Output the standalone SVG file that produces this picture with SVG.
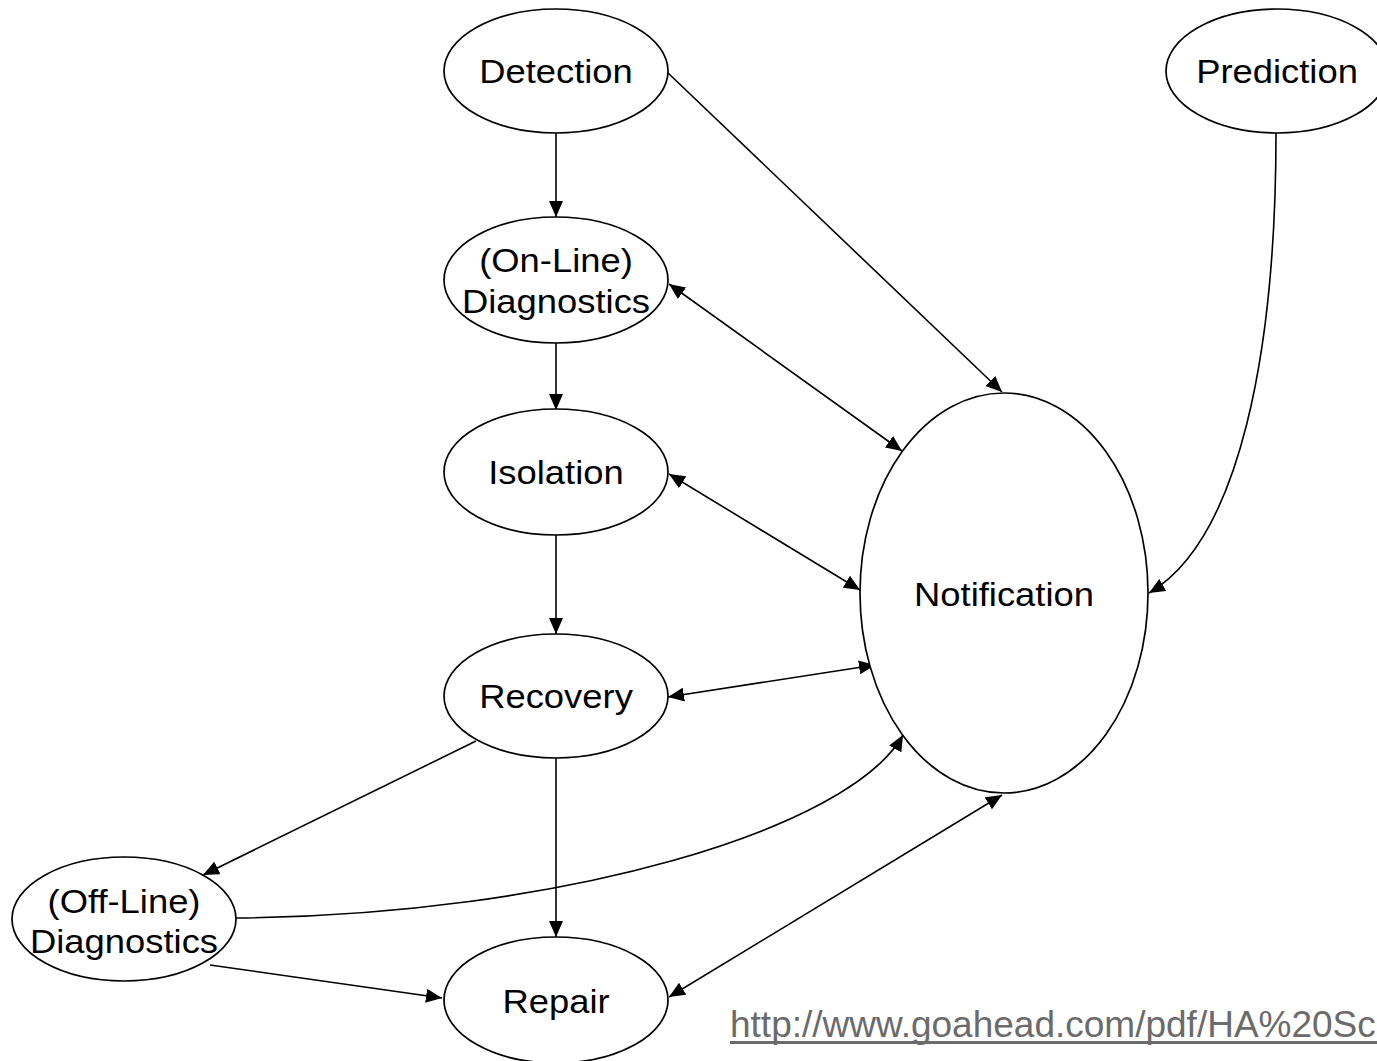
<svg xmlns="http://www.w3.org/2000/svg" width="1377" height="1061" viewBox="0 0 1377 1061">
  <style>
    .node { fill: #ffffff; stroke: #000000; stroke-width: 1.7; }
    .label { font-family: "Liberation Sans", Arial, sans-serif; font-size: 34px; fill: #000000; text-anchor: middle; }
    .edge { fill: none; stroke: #000000; stroke-width: 1.6; }
    .url { font-family: "Liberation Sans", Arial, sans-serif; font-size: 37px; fill: #6b6b6b; }
  </style>
  <defs>
    <marker id="arrow" markerUnits="userSpaceOnUse" markerWidth="17" markerHeight="14" refX="16" refY="7" orient="auto-start-reverse">
      <path d="M0,0 L16,7 L0,14 z" fill="#000000"/>
    </marker>
  </defs>

  <rect width="1377" height="1061" fill="#ffffff"/>

  <!-- connectors -->
  <g id="connectors">
    <path class="edge" d="M556,133 L556,217" marker-end="url(#arrow)"/>
    <path class="edge" d="M667,72 L1002,392" marker-end="url(#arrow)"/>
    <path class="edge" d="M556,343 L556,410" marker-end="url(#arrow)"/>
    <path class="edge" d="M669,284 L902,451" marker-start="url(#arrow)" marker-end="url(#arrow)"/>
    <path class="edge" d="M669,474 L860,590" marker-start="url(#arrow)" marker-end="url(#arrow)"/>
    <path class="edge" d="M556,535 L556,634" marker-end="url(#arrow)"/>
    <path class="edge" d="M668,697 L875,665" marker-start="url(#arrow)" marker-end="url(#arrow)"/>
    <path class="edge" d="M476,741 L203,875" marker-end="url(#arrow)"/>
    <path class="edge" d="M556,758 L556,937" marker-end="url(#arrow)"/>
    <path class="edge" d="M236,918 C560,915 850,830 903,735" marker-end="url(#arrow)"/>
    <path class="edge" d="M210,965 L442,998" marker-end="url(#arrow)"/>
    <path class="edge" d="M669,997 L1002,795" marker-start="url(#arrow)" marker-end="url(#arrow)"/>
    <path class="edge" d="M1276,133 C1276,350 1240,540 1149,593" marker-end="url(#arrow)"/>
  </g>

  <!-- nodes -->
  <g id="detection">
    <ellipse class="node" cx="556" cy="71" rx="112" ry="62"/>
    <text class="label" transform="translate(556 83) scale(1.07 1)">Detection</text>
  </g>
  <g id="prediction">
    <ellipse class="node" cx="1277" cy="71" rx="111" ry="62"/>
    <text class="label" transform="translate(1277 83) scale(1.07 1)">Prediction</text>
  </g>
  <g id="online-diagnostics">
    <ellipse class="node" cx="556" cy="280" rx="112" ry="63"/>
    <text class="label" transform="translate(556 272) scale(1.07 1)">(On-Line)</text>
    <text class="label" transform="translate(556 313) scale(1.07 1)">Diagnostics</text>
  </g>
  <g id="isolation">
    <ellipse class="node" cx="556" cy="472" rx="112" ry="63"/>
    <text class="label" transform="translate(556 484) scale(1.07 1)">Isolation</text>
  </g>
  <g id="recovery">
    <ellipse class="node" cx="556" cy="696" rx="112" ry="62"/>
    <text class="label" transform="translate(556 708) scale(1.07 1)">Recovery</text>
  </g>
  <g id="offline-diagnostics">
    <ellipse class="node" cx="124" cy="919" rx="112" ry="62"/>
    <text class="label" transform="translate(124 913) scale(1.07 1)">(Off-Line)</text>
    <text class="label" transform="translate(124 953) scale(1.07 1)">Diagnostics</text>
  </g>
  <g id="repair">
    <ellipse class="node" cx="556" cy="1000" rx="112" ry="63"/>
    <text class="label" transform="translate(556 1013) scale(1.07 1)">Repair</text>
  </g>
  <g id="notification">
    <ellipse class="node" cx="1004" cy="593" rx="144" ry="200"/>
    <text class="label" transform="translate(1004 606) scale(1.07 1)">Notification</text>
  </g>

  <!-- source link, underlined -->
  <g id="source-link">
    <text class="url" x="730" y="1037">http://www.goahead.com/pdf/HA%20Sc</text>
    <line x1="730" y1="1042.5" x2="1377" y2="1042.5" stroke="#6b6b6b" stroke-width="3"/>
  </g>
</svg>
